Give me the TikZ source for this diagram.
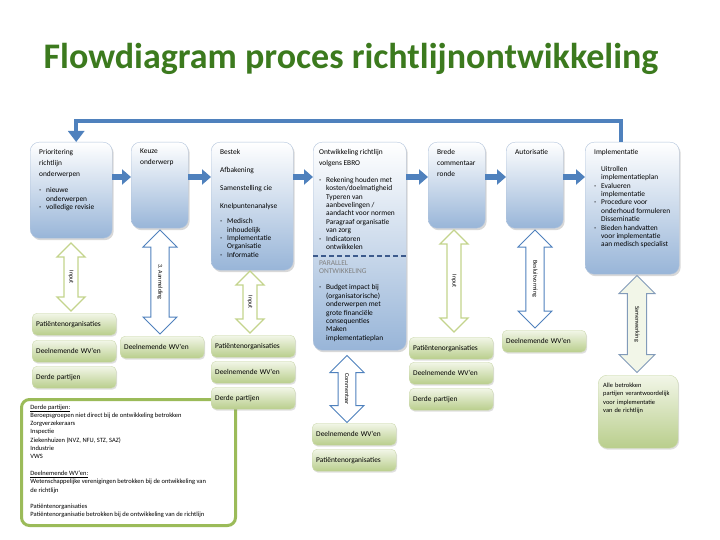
\documentclass[tikz,border=0pt]{standalone}
\usepackage{fontspec}
\setmainfont{Carlito}
\usetikzlibrary{arrows.meta,shapes.arrows,shadows}

\definecolor{titlegreen}{RGB}{60,122,30}
\definecolor{procblue}{RGB}{152,181,216}
\definecolor{procedge}{RGB}{178,196,220}
\definecolor{flowblue}{RGB}{79,129,189}
\definecolor{partytop}{RGB}{242,246,232}
\definecolor{partybot}{RGB}{185,206,140}
\definecolor{partyedge}{RGB}{205,218,175}
\definecolor{inputgreen}{RGB}{196,212,140}
\definecolor{legendgreen}{RGB}{155,187,89}
\definecolor{dashblue}{RGB}{60,90,140}
\definecolor{stagegray}{RGB}{130,155,185}

\newcommand{\itm}[1]{\par\hangindent=7pt\hangafter=1\noindent\makebox[7pt][l]{-}#1}
\newcommand{\ind}[1]{\par\hangindent=7pt\hangafter=0\noindent #1}
\newcommand{\proctxt}[3]{\parbox[t][#2][t]{#1}{\raggedright\fontsize{7.4}{8.4}\selectfont #3}}

\tikzset{
  proc/.style={anchor=north west, rounded corners=9pt, top color=white, bottom color=procblue,
    draw=procedge, inner xsep=9pt, inner ysep=7pt,
    drop shadow={opacity=0.3, shadow xshift=1.5pt, shadow yshift=-2pt}},
  party/.style={anchor=north west, rounded corners=5pt, top color=partytop, bottom color=partybot,
    draw=partyedge, minimum width=84pt, minimum height=22pt, text width=76pt, inner xsep=4pt,
    align=left, font=\fontsize{7.4}{8.4}\selectfont,
    drop shadow={opacity=0.25, shadow xshift=1pt, shadow yshift=-1.5pt}},
  legend/.style={anchor=north west, draw=legendgreen, line width=3pt, rounded corners=8pt,
    fill=white, inner xsep=9pt, inner ysep=5pt},
  flow/.style={line width=6pt, draw=flowblue, -{Triangle[length=9pt,width=15pt]}},
  backflow/.style={line width=4pt, draw=flowblue, -{Triangle[length=11pt,width=16pt]}},
  dbl/.style={double arrow, double arrow head extend=7pt, inner xsep=1pt, inner ysep=4pt,
    fill=white, font=\fontsize{6}{7}\selectfont, rotate=-90},
  inputarrow/.style={dbl, draw=inputgreen, line width=1.3pt, minimum width=28pt},
  stagearrow/.style={dbl, draw=flowblue, line width=1pt, inner ysep=5pt, minimum width=34pt}
}

\begin{document}
\begin{tikzpicture}[x=1pt,y=-1pt]
\fill[white] (0,0) rectangle (720,540);
\useasboundingbox (0,0) rectangle (720,540);

\node[anchor=base, text=titlegreen, font=\fontsize{36}{42}\selectfont\bfseries] (TITLE) at (351,69)
  {Flowdiagram proces richtlijnontwikkeling};

% process steps
\node[proc] (PR) at (30,142) {\proctxt{64pt}{82pt}{Prioritering\\[2.6pt]richtlijn\\[2.6pt]onderwerpen\par\vspace{8pt}%
  \itm{nieuwe\newline onderwerpen}\itm{volledige revisie}}};
\node[proc] (KO) at (131,142) {\proctxt{39pt}{72pt}{Keuze\\[2.6pt]onderwerp}};
\node[proc] (BE) at (211,142) {\proctxt{64pt}{114pt}{Bestek\\[9.6pt]Afbakening\\[9.6pt]Samenstelling cie\\[9.6pt]Knelpuntenanalyse\par\vspace{7pt}%
  \itm{Medisch\newline inhoudelijk}\itm{Implementatie\newline Organisatie}\itm{Informatie}}};
\node[proc, inner xsep=6pt] (ON) at (313,142) {\proctxt{81pt}{194pt}{Ontwikkeling richtlijn\\[2.6pt]volgens EBRO\par\vspace{8.6pt}%
  \itm{Rekening houden met\newline kosten/doelmatigheid}
  \ind{Typeren van\newline aanbevelingen /\newline aandacht voor normen}
  \ind{Paragraaf organisatie\newline van zorg}
  \itm{Indicatoren\newline ontwikkelen}\par\vspace{7.6pt}%
  \noindent{\color{gray}PARALLEL\newline ONTWIKKELING}\par\vspace{7.6pt}%
  \itm{Budget impact bij\newline (organisatorische)\newline onderwerpen met\newline grote financiële\newline consequenties}
  \ind{Maken\newline implementatieplan}}};
\node[proc] (BC) at (428,142) {\proctxt{39pt}{72pt}{Brede\\[2.6pt]commentaar\\[2.6pt]ronde}};
\node[proc] (AU) at (506,142) {\proctxt{39pt}{72pt}{Autorisatie}};
\node[proc] (IM) at (585,142) {\proctxt{76pt}{118pt}{Implementatie\par\vspace{8.6pt}%
  \ind{Uitrollen\newline implementatieplan}\itm{Evalueren\newline implementatie}\itm{Procedure voor\newline onderhoud formuleren}%
  \ind{Disseminatie}\itm{Bieden handvatten\newline voor implementatie\newline aan medisch specialist}}};

\draw[dashblue, line width=1.6pt, dash pattern=on 5pt off 3pt] (ON.west |- 0,256) -- (ON.east |- 0,256);

\foreach \a/\b in {PR/KO,KO/BE,BE/ON,ON/BC,BC/AU,AU/IM}
  \draw[flow] (\a.east |- 0,177) -- (\b.west |- 0,177);
\draw[backflow] ([xshift=-11pt]IM.north) -- ++(0,-21) -| ([xshift=5pt]PR.north);

% legend
\node[legend] (LEG) at (20,398) {\parbox[t][116pt][t]{196pt}{\fontsize{6.5}{8.3}\selectfont
  \underline{Derde partijen:}\\
  Beroepsgroepen niet direct bij de ontwikkeling betrokken\\
  Zorgverzekeraars\\
  Inspectie\\
  Ziekenhuizen (NVZ, NFU, STZ, SAZ)\\
  Industrie\\
  VWS\\[8.3pt]
  \underline{Deelnemende WV'en:}\\
  Wetenschappelijke verenigingen betrokken bij de ontwikkeling van\\
  de richtlijn\\[8.3pt]
  Patiëntenorganisaties\\
  Patiëntenorganisatie betrokken bij de ontwikkeling van de richtlijn}};

% parties
\node[party] (PO1) at (32,313) {Patiëntenorganisaties};
\node[party] (WV1) at (32,340) {Deelnemende WV'en};
\node[party] (DP1) at (32,366) {Derde partijen};
\node[party] (WV2) at (120,336) {Deelnemende WV'en};
\node[party] (PO3) at (211,335) {Patiëntenorganisaties};
\node[party] (WV3) at (211,361) {Deelnemende WV'en};
\node[party] (DP3) at (211,387) {Derde partijen};
\node[party] (WV4) at (312,423) {Deelnemende WV'en};
\node[party] (PO4) at (312,449) {Patiëntenorganisaties};
\node[party] (PO5) at (409,337) {Patiëntenorganisaties};
\node[party] (WV5) at (409,362) {Deelnemende WV'en};
\node[party] (DP5) at (409,388) {Derde partijen};
\node[party] (WV6) at (502,330) {Deelnemende WV'en};
\node[party, minimum width=80pt, text width=70pt, inner xsep=5pt, inner ysep=8pt, rounded corners=9pt,
  font=\fontsize{6.4}{8.2}\selectfont] (ALL) at (598,375)
  {\parbox[t][57pt][t]{70pt}{Alle betrokken\\partijen verantwoordelijk\\voor implementatie\\van de richtlijn}};

% exchanges
\node[inputarrow, minimum height=68pt] (IN1) at (71,277) {Input};
\node[stagearrow, minimum height=104pt] (ST2) at (160,282) {3. Aanmelding};
\node[inputarrow, minimum height=62pt] (IN3) at (250,302) {Input};
\node[stagearrow, minimum height=67pt] (ST4) at (347,389) {Commentaar};
\node[inputarrow, minimum height=102pt] (IN5) at (454,281) {Input};
\node[stagearrow, minimum height=98pt] (ST6) at (535,279) {Besluitvorming};
\node[dbl, draw=stagegray, line width=1pt, inner ysep=5pt, fill=partytop, minimum width=36pt, minimum height=97pt] (ST7) at (637,324) {Samenwerking};
\end{tikzpicture}
\end{document}
